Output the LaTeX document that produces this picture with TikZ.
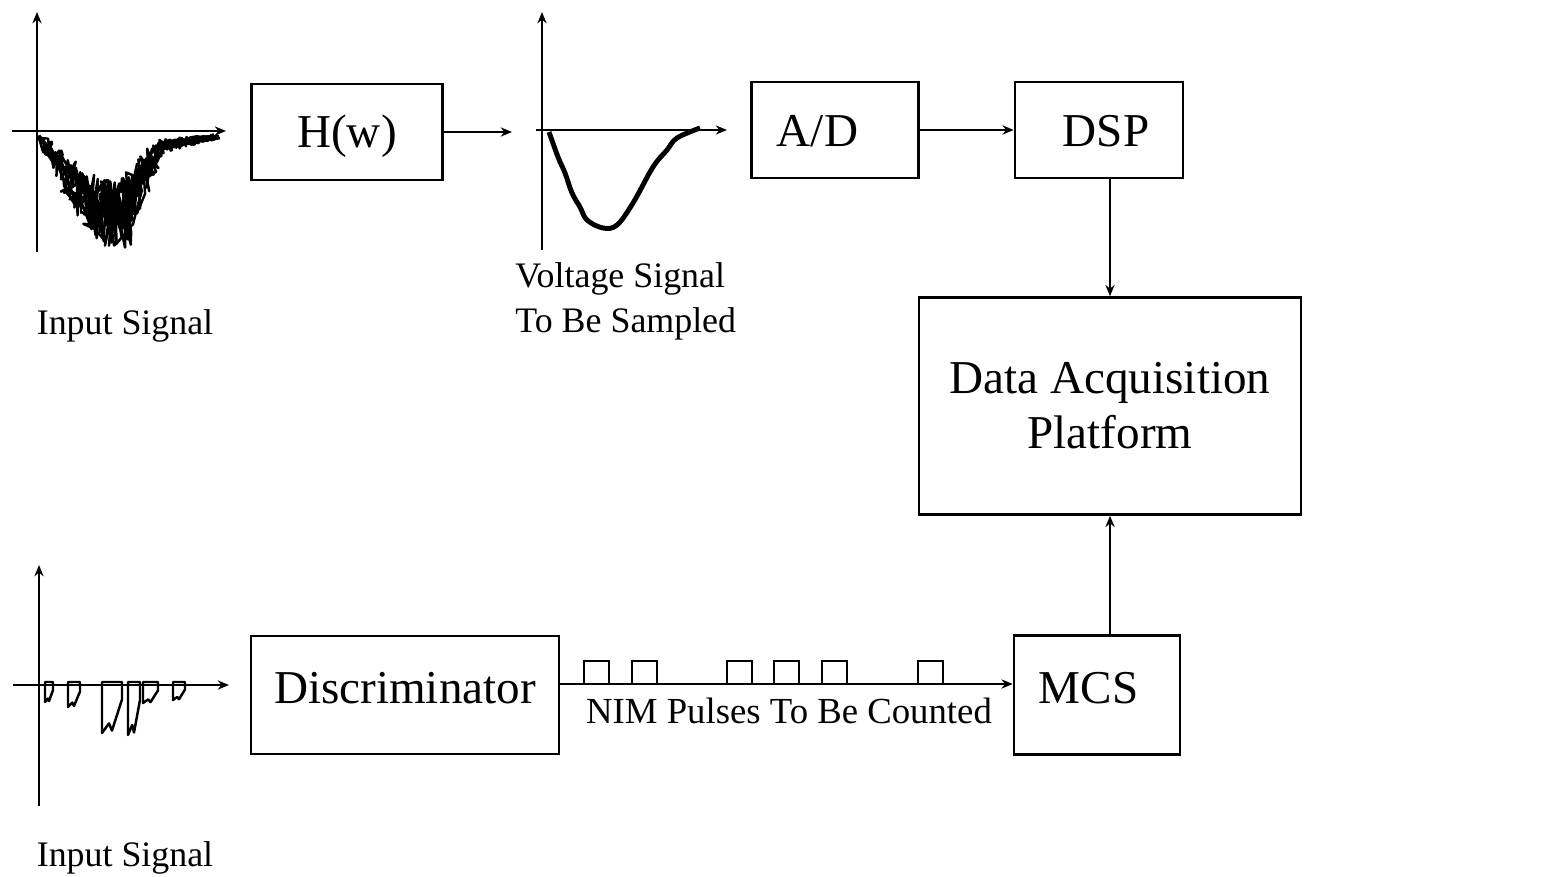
\documentclass[tikz,border=0pt]{standalone}
\usepackage{fontspec}
\setmainfont{Liberation Serif}
\usetikzlibrary{arrows.meta, positioning}

\begin{document}
\begin{tikzpicture}[
    x=0.01cm, y=-0.01cm,
    block/.style={draw, line width=0.7pt, font=\fontsize{13.4}{15.6}\selectfont},
    toprow/.style={block, text height=0.91em, text depth=0pt},
    lowrow/.style={block, text height=0.49em, text depth=0pt},
    arrow/.style={-{Stealth[length=3.2pt, width=2.6pt]}, line width=0.6pt},
    axis/.style={-{Stealth[length=3.2pt, width=2.6pt]}, line width=0.6pt},
    sigtext/.style={font=\fontsize{10.2}{12.8}\selectfont, align=left},
    trace/.style={line width=0.7pt, line join=round},
    pulsebox/.style={line width=0.7pt},
    declare function={env(\t)=(\t<95) ? 10+(\t-40)/55*105 : ((\t<125) ? 118 : ((\t<160) ? 118-(\t-125)/35*96 : 22-(\t-160)/55*14));}
]
\useasboundingbox (0,0) rectangle (1543,876);

% blocks
\node[toprow, minimum width=1.91cm, minimum height=0.96cm] (hw) at (347,132) {H(w)};
\node[toprow, minimum width=1.67cm, minimum height=0.96cm] (ad) at (835,130) {A/D\kern0.35cm};
\node[toprow, minimum width=1.68cm, minimum height=0.96cm] (dsp) at (1099,130) {\kern0.14cm DSP};
\node[block, minimum width=3.82cm, minimum height=2.17cm, align=center] (dap) at (1110,406) {Data Acquisition\\Platform};
\node[lowrow, minimum width=3.08cm, minimum height=1.18cm] (disc) at (405,695) {Discriminator};
\node[lowrow, minimum width=1.66cm, minimum height=1.19cm] (mcs) at (1097,695) {MCS\kern0.17cm};

% input signal (top)
\draw[axis] (37,252) -- (37,12);
\draw[axis] (12,131) -- (226,131);
\pgfmathsetseed{11}
\foreach \k in {1,...,7}
  \draw[trace] plot[domain=40:215, samples=80] ({\x+6*rand}, {131+env(\x)*(0.4+0.6*rnd)});
\node[sigtext] (inlabel) at (125,326) {Input Signal};

% voltage signal
\draw[axis] (542,250) -- (542,12);
\draw[axis] (536,130) -- (727,130);
\draw[line width=1.4pt, line join=round] plot[smooth, tension=0.6] coordinates {(549,132) (558,157) (565,173) (572,193) (580,207) (587,220) (603,228) (617,225) (633,203) (653,167) (667,150) (677,138) (700,128)};
\node[sigtext, anchor=west] (voltlabel) at (503,301) {Voltage Signal\\To Be Sampled};

% input signal (bottom)
\draw[axis] (39,806) -- (39,565);
\draw[axis] (13,685) -- (229,685);
\foreach \px/\pw/\pd in {45/8/17, 68/12/22, 102/20/48, 128/12/50, 143/15/18, 173/12/15}
  \draw[trace] (\px,682) -- (\px,{685+\pd}) -- ({\px+0.35*\pw},{685+0.8*\pd}) -- ({\px+0.5*\pw},{685+0.95*\pd}) -- ({\px+\pw},{685+0.3*\pd}) -- ({\px+\pw},682) -- cycle;
\node[sigtext] (inlabel2) at (125,858) {Input Signal};

% connections
\coordinate (hwout) at (512,132);
\draw[arrow] (hw.east) -- (hwout);
\draw[arrow] (ad) -- (dsp);
\draw[arrow] (dap.north |- dsp.south) -- (dap.north);
\draw[arrow] (dap.south |- mcs.north) -- (dap.south);
\draw[arrow] ([yshift=0.11cm]disc.east) -- ([yshift=0.11cm]mcs.west);
\foreach \px in {584,632,727,774,822,918}
  \draw[pulsebox] (\px,684) -- ++(0,-23) -- ++(25,0) -- ++(0,23);
\node[sigtext, font=\fontsize{10.45}{12.8}\selectfont] (nimlabel) at (789,711) {NIM Pulses To Be Counted};

\end{tikzpicture}
\end{document}
